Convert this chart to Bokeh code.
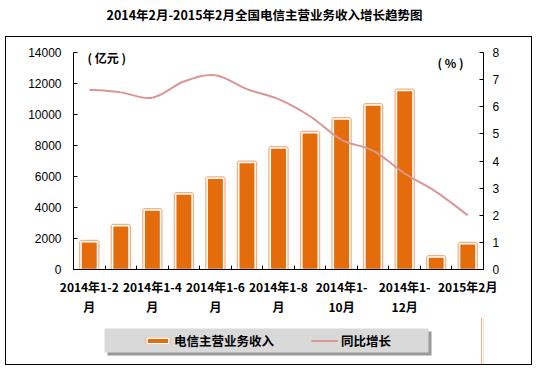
from bokeh.plotting import figure
from bokeh.models import (Range1d, LinearAxis, FixedTicker, Legend, LegendItem,
                          Label, ColumnDataSource, Div, BoxAnnotation)
from bokeh.layouts import column
from bokeh.embed import file_html
from bokeh.resources import INLINE

title_text = "2014年2月-2015年2月全国电信主营业务收入增长趋势图"
categories = ["2014年1-2月", "2014年1-3月", "2014年1-4月", "2014年1-5月",
              "2014年1-6月", "2014年1-7月", "2014年1-8月", "2014年1-9月",
              "2014年1-10月", "2014年1-11月", "2014年1-12月", "2015年1月",
              "2015年2月"]
revenue = [1790, 2820, 3840, 4870, 5890, 6900, 7840, 8830, 9710, 10620,
           11541, 810, 1660]
growth = [6.63, 6.53, 6.33, 6.93, 7.16, 6.65, 6.28, 5.65, 4.78, 4.38,
          3.54, 2.86, 2.0]
tick_label_index = [0, 2, 4, 6, 8, 10, 12]
tick_labels = ["2014年1-2\n月", "2014年1-4\n月", "2014年1-6\n月",
               "2014年1-8\n月", "2014年1-\n10月", "2014年1-\n12月",
               "2015年2月"]
left_ticks = [0, 2000, 4000, 6000, 8000, 10000, 12000, 14000]
right_ticks = [0, 1, 2, 3, 4, 5, 6, 7, 8]
series_names = ["电信主营业务收入", "同比增长"]
unit_left = "( 亿元 )"
unit_right = "( % )"

CJK = "Noto Sans CJK SC"
NUM = "Liberation Sans"
BAR = "#E46C0A"
BAR_EDGE = "#F4B183"
LINE = "#D99694"

n = len(categories)
x = [i + 1 for i in range(n)]
src = ColumnDataSource(dict(x=x, top=revenue, g=growth))

p = figure(width=525, height=281, x_range=Range1d(0.5, n + 0.5),
           y_range=Range1d(left_ticks[0], left_ticks[-1]),
           output_backend="svg", toolbar_location=None,
           min_border_left=67, min_border_right=48,
           min_border_top=15, min_border_bottom=49, margin=0)
p.extra_y_ranges = {"pct": Range1d(right_ticks[0], right_ticks[-1])}
p.grid.visible = False
p.outline_line_color = None
p.background_fill_color = "white"
p.border_fill_color = "white"

# left axis
ya = p.yaxis[0]
ya.ticker = FixedTicker(ticks=left_ticks, minor_ticks=[])
ya.major_tick_in = 4
ya.major_tick_out = 0
ya.minor_tick_line_color = None
ya.axis_line_color = "black"
ya.major_tick_line_color = "black"
ya.major_label_text_font = NUM
ya.major_label_text_font_size = "12px"
ya.major_label_text_color = "black"
ya.major_label_standoff = 12

# right axis
ra = LinearAxis(y_range_name="pct", ticker=FixedTicker(ticks=right_ticks, minor_ticks=[]))
ra.major_tick_in = 4
ra.major_tick_out = 0
ra.minor_tick_line_color = None
ra.axis_line_color = "black"
ra.major_tick_line_color = "black"
ra.major_label_text_font = NUM
ra.major_label_text_font_size = "12px"
ra.major_label_text_color = "black"
ra.major_label_standoff = 9
p.add_layout(ra, "right")

# bottom axis
xa = p.xaxis[0]
major_pos = [x[i] for i in tick_label_index]
xa.ticker = FixedTicker(ticks=major_pos, minor_ticks=[i + 0.5 for i in range(n + 1)])
xa.major_label_overrides = {pos: lab for pos, lab in zip(major_pos, tick_labels)}
xa.major_tick_line_color = None
xa.major_tick_in = 0
xa.major_tick_out = 0
xa.minor_tick_in = 4
xa.minor_tick_out = 0
xa.minor_tick_line_color = "black"
xa.axis_line_color = "black"
xa.major_label_text_font = CJK
xa.major_label_text_font_size = "12px"
xa.major_label_text_font_style = "bold"
xa.major_label_text_color = "black"
xa.major_label_standoff = 8

# bars
p.vbar(x="x", top="top", width=0.52, source=src, fill_color=None,
       line_color=BAR_EDGE, line_width=4)
p.vbar(x="x", top="top", width=0.52, source=src, fill_color=BAR,
       line_color="white", line_width=1.5)

# smoothed line (Catmull-Rom drawn as cubic Bezier segments)
def pt(i):
    i = max(0, min(n - 1, i))
    return x[i], growth[i]

bz = dict(x0=[], y0=[], x1=[], y1=[], cx0=[], cy0=[], cx1=[], cy1=[])
for i in range(n - 1):
    xa0, ya0 = pt(i)
    xa1, ya1 = pt(i + 1)
    xm, ym = pt(i - 1)
    xp, yp = pt(i + 2)
    bz["x0"].append(xa0); bz["y0"].append(ya0)
    bz["x1"].append(xa1); bz["y1"].append(ya1)
    bz["cx0"].append(xa0 + (xa1 - xm) / 6); bz["cy0"].append(ya0 + (ya1 - ym) / 6)
    bz["cx1"].append(xa1 - (xp - xa0) / 6); bz["cy1"].append(ya1 - (yp - ya0) / 6)
p.bezier(x0="x0", y0="y0", x1="x1", y1="y1", cx0="cx0", cy0="cy0",
         cx1="cx1", cy1="cy1", source=ColumnDataSource(bz),
         line_color=LINE, line_width=2, y_range_name="pct")

# unit labels
p.add_layout(Label(x=14, y=212, x_units="screen", y_units="screen", text=unit_left,
                   text_align="left", text_baseline="middle", text_font=CJK,
                   text_font_size="12px", text_font_style="bold", text_color="black"))
p.add_layout(Label(x=364, y=207.5, x_units="screen", y_units="screen", text=unit_right,
                   text_align="left", text_baseline="middle", text_font=CJK,
                   text_font_size="12px", text_font_style="bold", text_color="black"))

# legend strip (its own small figure; its frame lines up with the main frame)
lg = figure(width=525, height=46, x_range=Range1d(-3, -2), y_range=Range1d(0, 1),
            output_backend="svg", toolbar_location=None,
            x_axis_location=None, y_axis_location=None,
            min_border=0, margin=0)
lg.grid.visible = False
lg.outline_line_color = None
lg.border_fill_color = "white"
lg.background_fill_color = "white"
lg.add_layout(BoxAnnotation(left=34, right=358, top=33, bottom=9,
                            left_units="screen", right_units="screen",
                            top_units="screen", bottom_units="screen",
                            fill_color="#9a9a9a", fill_alpha=1, line_color=None))
lg.add_layout(BoxAnnotation(left=31, right=355, top=36, bottom=12,
                            left_units="screen", right_units="screen",
                            top_units="screen", bottom_units="screen",
                            fill_color="#D9D9D9", fill_alpha=1, line_color=None))
# same data, drawn outside this strip's view; only their legend swatches show
l_outer = lg.vbar(x="x", top="top", width=0.52, source=src, fill_color=None,
                  line_color=BAR_EDGE, line_width=4)
l_inner = lg.vbar(x="x", top="top", width=0.52, source=src, fill_color=BAR,
                  line_color="white", line_width=1.5)
l_line = lg.line(x="x", y="g", source=src, line_color=LINE, line_width=2)
legend = Legend(items=[LegendItem(label=series_names[0], renderers=[l_outer, l_inner]),
                       LegendItem(label=series_names[1], renderers=[l_line])],
                orientation="horizontal", location=(71, 14),
                background_fill_alpha=0, border_line_color=None,
                padding=2, margin=0, spacing=37, glyph_width=27, glyph_height=7,
                label_standoff=3, label_height=14,
                label_text_font=CJK, label_text_font_size="12.5px",
                label_text_font_style="bold", label_text_color="black")
lg.add_layout(legend, "center")

box = column(p, lg, spacing=0, margin=(0, 0, 0, 5),
             styles={"border": "1px solid black"})
title_div = Div(text=title_text, width=529, height=36, margin=0,
                styles={"text-align": "center", "font-family": CJK,
                        "font-weight": "bold", "font-size": "12.5px",
                        "line-height": "30px", "color": "black"})

layout = column(title_div, box, spacing=0, margin=0)
open("out.html", "w").write(file_html(layout, INLINE))
